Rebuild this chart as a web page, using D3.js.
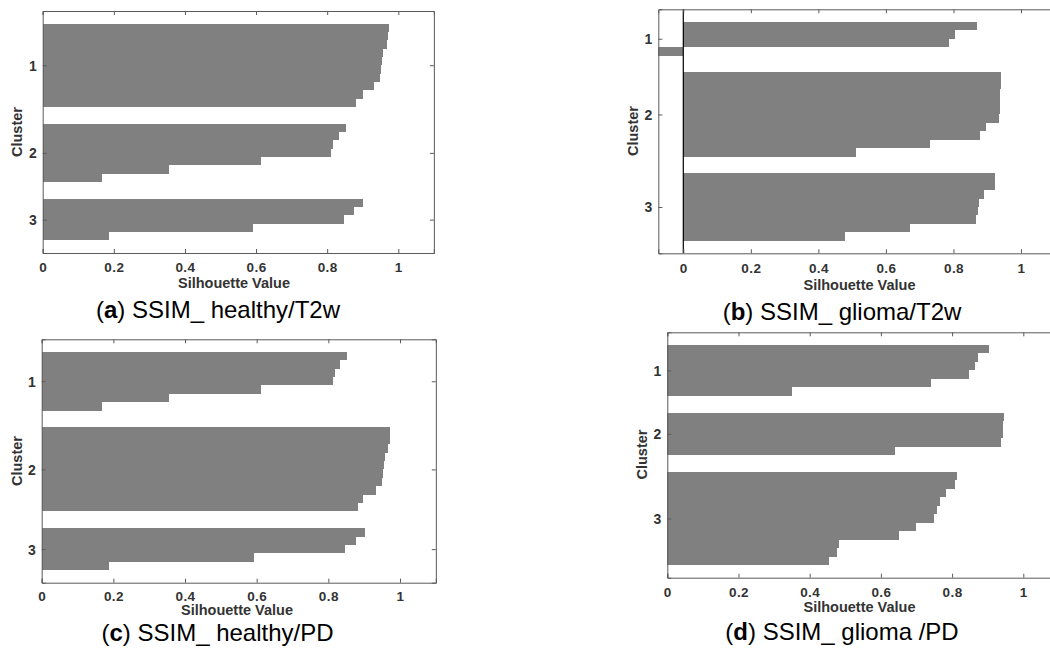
<!DOCTYPE html>
<html>
<head>
<meta charset="utf-8">
<script src="https://cdn.jsdelivr.net/npm/d3@7"></script>
<style>
  html, body { margin: 0; padding: 0; background: #fff; }
  svg { display: block; font-family: "Liberation Sans", Arial, sans-serif; }
</style>
</head>
<body>
<svg id="fig" width="1050" height="648"></svg>
<script>
// Silhouette values per cluster, each sorted from largest to smallest
const clusterNames = ["1", "2", "3"];
const xTickValues = [0, 0.2, 0.4, 0.6, 0.8, 1];

const healthyT2w = [
  [0.973, 0.971, 0.967, 0.958, 0.955, 0.952, 0.949, 0.933, 0.900, 0.881],
  [0.853, 0.832, 0.817, 0.812, 0.613, 0.356, 0.168],
  [0.902, 0.876, 0.846, 0.592, 0.187]
];
const gliomaT2w = [
  [0.871, 0.806, 0.788, -0.074],
  [0.940, 0.940, 0.939, 0.938, 0.937, 0.936, 0.896, 0.880, 0.730, 0.510],
  [0.923, 0.922, 0.890, 0.877, 0.874, 0.867, 0.671, 0.480]
];
const healthyPD = [
  [0.853, 0.833, 0.818, 0.812, 0.612, 0.356, 0.167],
  [0.973, 0.971, 0.967, 0.958, 0.955, 0.952, 0.949, 0.932, 0.898, 0.882],
  [0.903, 0.876, 0.847, 0.593, 0.187]
];
const gliomaPD = [
  [0.904, 0.873, 0.863, 0.848, 0.740, 0.351],
  [0.946, 0.944, 0.942, 0.937, 0.641],
  [0.815, 0.808, 0.783, 0.765, 0.757, 0.750, 0.698, 0.651, 0.483, 0.476, 0.455]
];

const captionLetters = ["a", "b", "c", "d"];
const captionTexts = [" SSIM_ healthy/T2w", " SSIM_ glioma/T2w", " SSIM_ healthy/PD", " SSIM_ glioma /PD"];

// Panel frames (axes box in pixels) and label placements
const panels = [
  { data: healthyT2w, xMin: 0, left: 42.7, x0: 42.7, unit: 355.6, top: 11, bottom: 253,
    tickDy: 14, xTitleDy: 30, xTitleX: 234, yTitleX: 17, yTitleY: 132, capX: 218, capY: 310 },
  { data: gliomaT2w, xMin: -0.074, left: 658.3, x0: 683.3, unit: 337.7, top: 9.3, bottom: 253.3,
    tickDy: 14.5, xTitleDy: 31.5, xTitleX: 859.5, yTitleX: 632.5, yTitleY: 131, capX: 842, capY: 311.5 },
  { data: healthyPD, xMin: 0, left: 41.7, x0: 41.7, unit: 358.3, top: 339.3, bottom: 582.7,
    tickDy: 13.5, xTitleDy: 27.5, xTitleX: 237, yTitleX: 17, yTitleY: 461, capX: 217.5, capY: 633 },
  { data: gliomaPD, xMin: 0, left: 667.3, x0: 667.3, unit: 356, top: 332.3, bottom: 577.7,
    tickDy: 14.6, xTitleDy: 29.6, xTitleX: 859.5, yTitleX: 642, yTitleY: 454.5, capX: 842, capY: 631.5 }
];

const svg = d3.select("#fig");
const barColor = "#808080";
const axisColor = "#5a5a5a";
const labelColor = "#333";
const space = 2;

panels.forEach((p, pi) => {
  const g = svg.append("g");
  const xMax = 1.1;
  const x = d3.scaleLinear().domain([p.xMin, xMax])
    .range([p.x0 + p.xMin * p.unit, p.x0 + xMax * p.unit]);

  // Lay out rows: a gap of `space` rows before, between and after clusters
  const rows = [];
  const ticks = [];
  let cnt = space;
  p.data.forEach((vals) => {
    vals.forEach((v, i) => rows.push({ pos: cnt + 1 + i, v }));
    ticks.push(cnt + 0.5 * (vals.length + 1));
    cnt += vals.length + space;
  });
  const total = d3.sum(p.data, d => d.length) + space * (p.data.length + 1);
  const y = d3.scaleLinear().domain([1, total]).range([p.top, p.bottom]);

  // Bars
  g.append("g").attr("shape-rendering", "crispEdges")
    .selectAll("rect").data(rows).join("rect")
    .attr("x", d => x(Math.min(0, d.v)))
    .attr("width", d => Math.abs(x(d.v) - x(0)))
    .attr("y", d => y(d.pos - 0.5))
    .attr("height", d => y(d.pos + 0.5) - y(d.pos - 0.5))
    .attr("fill", barColor);

  // Baseline at zero
  if (p.xMin < 0) {
    g.append("line")
      .attr("x1", x(0)).attr("x2", x(0))
      .attr("y1", p.top).attr("y2", p.bottom)
      .attr("stroke", "#000").attr("stroke-width", 1.2);
  }

  const left = x.range()[0], right = x.range()[1];

  // Axes with inward ticks
  const axB = g.append("g").attr("transform", `translate(0,${p.bottom})`)
    .call(d3.axisBottom(x).tickValues(xTickValues).tickSize(-4).tickFormat(d3.format("")));
  const axT = g.append("g").attr("transform", `translate(0,${p.top})`)
    .call(d3.axisTop(x).tickValues(xTickValues).tickSize(-4).tickFormat(""));
  const axL = g.append("g").attr("transform", `translate(${left},0)`)
    .call(d3.axisLeft(y).tickValues(ticks).tickSize(-4).tickFormat((d, i) => clusterNames[i]));
  const axR = g.append("g").attr("transform", `translate(${right},0)`)
    .call(d3.axisRight(y).tickValues(ticks).tickSize(-4).tickFormat(""));

  [axB, axT, axL, axR].forEach(a => {
    a.attr("font-family", "Liberation Sans, Arial, sans-serif");
    a.select(".domain").attr("stroke", axisColor).attr("stroke-width", 1);
    a.selectAll(".tick line").attr("stroke", axisColor);
  });
  axB.selectAll(".tick text")
    .attr("y", p.tickDy).attr("dy", "0.35em")
    .attr("fill", labelColor).attr("font-size", 13.5).attr("font-weight", "bold")
    .attr("letter-spacing", "0.4px");
  axL.selectAll(".tick text")
    .attr("x", -6).attr("dy", "0.35em")
    .attr("fill", labelColor).attr("font-size", 14).attr("font-weight", "bold");

  // Axis titles
  g.append("text")
    .attr("x", p.xTitleX).attr("y", p.bottom + p.xTitleDy).attr("dy", "0.35em")
    .attr("text-anchor", "middle").attr("font-size", 14.5).attr("font-weight", "bold")
    .attr("fill", labelColor).text("Silhouette Value");
  g.append("text")
    .attr("transform", `translate(${p.yTitleX},${p.yTitleY}) rotate(-90)`)
    .attr("dy", "0.35em")
    .attr("text-anchor", "middle").attr("font-size", 14.5).attr("font-weight", "bold")
    .attr("fill", labelColor).text("Cluster");

  // Caption
  const cap = g.append("text")
    .attr("x", p.capX).attr("y", p.capY).attr("dy", "0.35em")
    .attr("text-anchor", "middle").attr("font-size", 24).attr("fill", "#000");
  cap.append("tspan").text("(");
  cap.append("tspan").attr("font-weight", "bold").text(captionLetters[pi]);
  cap.append("tspan").text(")" + captionTexts[pi]);
});
</script>
</body>
</html>
